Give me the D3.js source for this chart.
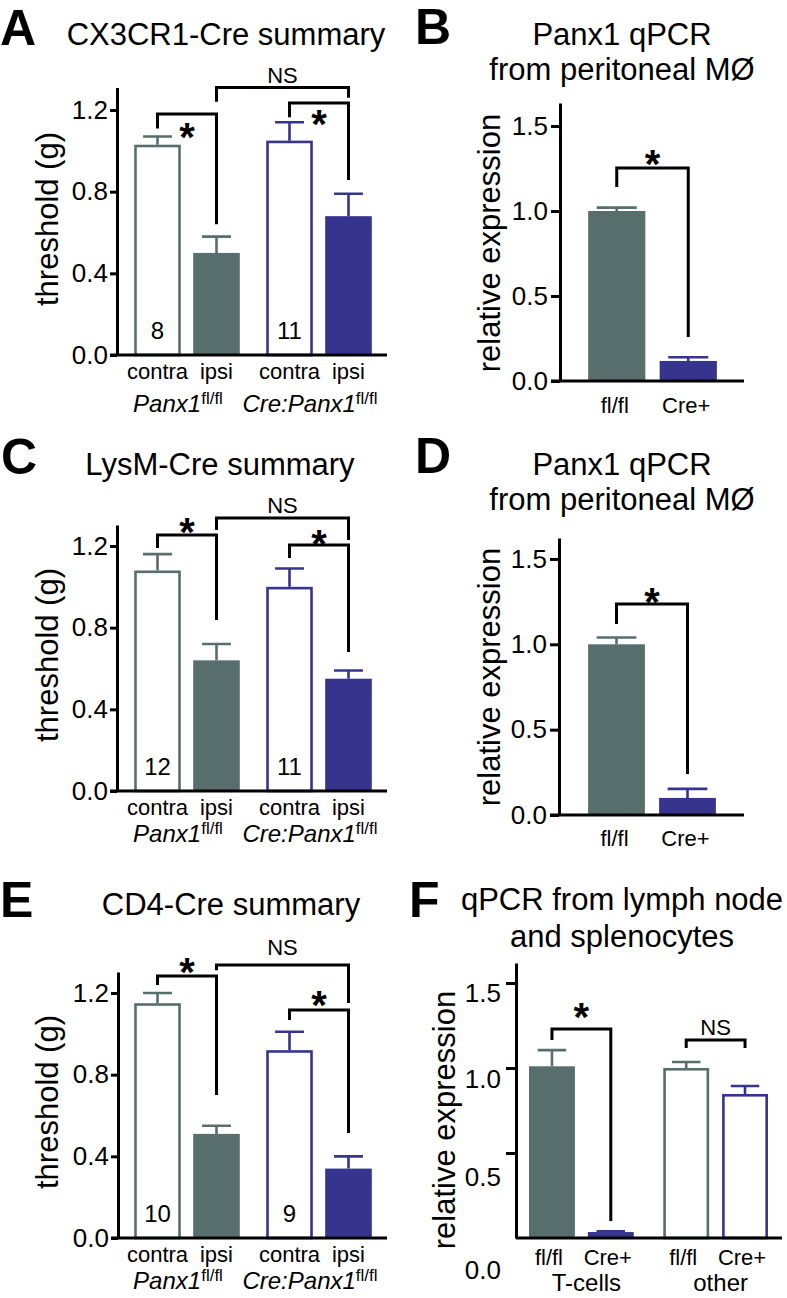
<!DOCTYPE html>
<html><head><meta charset="utf-8">
<script src="https://cdn.jsdelivr.net/npm/d3@7"></script>
<style>
body{margin:0;background:#fff}
svg{display:block}
text{font-family:"Liberation Sans",Arial,Helvetica,sans-serif;fill:#000}
</style>
</head><body>
<svg id="chart" width="787" height="1298"></svg>
<script>
// ---------------- DATA ----------------
const thrGroups = ["Panx1", "Cre:Panx1"];
const thrConditions = ["contra", "ipsi"];
const thrTicks = [0, 0.4, 0.8, 1.2];
const qTicks = [0, 0.5, 1.0, 1.5];

// Panel A: CX3CR1-Cre
const aMeans = [1.03, 0.50, 1.05, 0.68];
const aErrTop = [1.07, 0.58, 1.14, 0.79];
const aN = ["8", "", "11", ""];
// brackets: [fromBar, toBar, topValue, leftEndValue, rightEndValue, label, labelValue]
const aBrackets = [[0, 1, 1.18, 1.11, 0.64, "*", 1.112], [1, 3, 1.31, 1.24, 1.26, "NS", 1.371], [2, 3, 1.234, 1.165, 0.857, "*", 1.175]];

// Panel C: LysM-Cre
const cMeans = [1.08, 0.64, 1.00, 0.55];
const cErrTop = [1.16, 0.72, 1.09, 0.59];
const cN = ["12", "", "11", ""];
const cBrackets = [[0, 1, 1.254, 1.19, 0.837, "*", 1.312], [1, 3, 1.337, 1.278, 1.229, "NS", 1.40], [2, 3, 1.205, 1.141, 0.681, "*", 1.254]];

// Panel E: CD4-Cre
const eMeans = [1.15, 0.51, 0.92, 0.34];
const eErrTop = [1.20, 0.55, 1.01, 0.40];
const eN = ["10", "", "9", ""];
const eBrackets = [[0, 1, 1.283, 1.239, 0.70, "*", 1.347], [1, 3, 1.337, 1.312, 1.151, "NS", 1.425], [2, 3, 1.117, 1.068, 0.514, "*", 1.185]];

// Panels B, D: Panx1 qPCR from peritoneal MØ
const qCategories = ["fl/fl", "Cre+"];
const bMeans = [1.00, 0.118];
const bErrTop = [1.02, 0.14];
const bBrackets = [[0, 1, 1.253, 1.141, 0.259, "*", 1.329]];
const dMeans = [1.00, 0.10];
const dErrTop = [1.04, 0.153];
const dBrackets = [[0, 1, 1.236, 1.119, 0.24, "*", 1.30]];

// Panel F: qPCR from lymph node and splenocytes
const fGroups = ["T-cells", "other"];
const fConditions = ["fl/fl", "Cre+"];
const fMeans = [1.01, 0.035, 1.00, 0.847];
const fErrTop = [1.105, 0.04, 1.035, 0.894];
const fBrackets = [[0, 1, 1.229, 1.165, 0.10, "*", 1.353], [2, 3, 1.165, 1.118, 1.118, "NS", 1.241]];

// ---------------- STYLE ----------------
const GRAY = "#586e6d";
const BLUE = "#36348c";
const svg = d3.select("#chart");

function txt(g, x, y, s, size, o = {}) {
  const t = g.append("text").attr("x", x).attr("y", y).attr("font-size", size)
    .attr("text-anchor", o.anchor || "start").text(s);
  if (o.weight) t.attr("font-weight", o.weight);
  if (o.rotate) t.attr("transform", `rotate(-90,${x},${y})`);
  return t;
}

function drawBars(g, bars, y, y0) {
  bars.forEach(b => {
    if (b.filled) {
      g.append("rect").attr("x", b.x).attr("y", y(b.m)).attr("width", b.w)
        .attr("height", y0 - y(b.m)).attr("fill", b.color);
    } else {
      g.append("rect").attr("x", b.x + 1.3).attr("y", y(b.m) + 1.3).attr("width", b.w - 2.6)
        .attr("height", y0 - y(b.m) - 1.3).attr("fill", "#fff")
        .attr("stroke", b.color).attr("stroke-width", 2.6);
    }
    const cw = b.w * b.capFrac;
    g.append("path").attr("d", `M${b.cx},${y(b.m)}V${y(b.e)}M${b.cx - cw / 2},${y(b.e)}H${b.cx + cw / 2}`)
      .attr("stroke", b.color).attr("stroke-width", 2.6).attr("fill", "none");
  });
}

function drawBrackets(g, brackets, bars, y) {
  brackets.forEach(([i, j, top, le, re, label, lv]) => {
    const xl = bars[i].cx, xr = bars[j].cx;
    g.append("path").attr("d", `M${xl},${y(le)}V${y(top)}H${xr}V${y(re)}`)
      .attr("stroke", "#000").attr("stroke-width", 3).attr("fill", "none");
    if (label === "*") {
      txt(g, (xl + xr) / 2, y(lv) + 23, "*", 40, {anchor: "middle", weight: "bold"});
    } else {
      txt(g, (xl + xr) / 2, y(lv) + 8, label, 22, {anchor: "middle"});
    }
  });
}

function styleAxis(ax) {
  ax.select(".domain").attr("stroke-width", 3);
  ax.selectAll(".tick line").attr("stroke-width", 3);
  ax.selectAll(".tick text").attr("font-size", 26).attr("font-family", '"Liberation Sans",Arial,sans-serif').attr("fill", "#000");
}

// ---------------- THRESHOLD PANELS (A, C, E) ----------------
function thresholdPanel(L, means, errs, ns, brackets) {
  const g = svg.append("g");
  txt(g, L.lx, L.ly, L.letter, 50, {weight: "bold"});
  txt(g, L.tx, L.ty, L.title, 31, {anchor: "middle"});
  const ppu = (L.y0 - L.y12) / 1.2;
  const y = d3.scaleLinear().domain([0, L.top]).range([L.y0, L.y0 - L.top * ppu]);
  const xo = d3.scaleBand().domain(thrGroups).range(L.band).paddingInner(0.2).paddingOuter(0.1);
  const xi = d3.scaleBand().domain(thrConditions).range([0, xo.bandwidth()]).paddingInner(0.21);
  const bars = means.map((m, i) => {
    const gi = Math.floor(i / 2), c = thrConditions[i % 2];
    const x = xo(thrGroups[gi]) + xi(c);
    return {m, e: errs[i], n: ns[i], x, w: xi.bandwidth(), cx: x + xi.bandwidth() / 2,
      color: gi ? BLUE : GRAY, filled: c === "ipsi", cond: c, capFrac: 0.62};
  });
  drawBars(g, bars, y, L.y0);
  g.append("line").attr("x1", L.axisX - 7).attr("x2", L.axisRight).attr("y1", L.y0).attr("y2", L.y0)
    .attr("stroke", "#000").attr("stroke-width", 3);
  const ax = g.append("g").attr("transform", `translate(${L.axisX},0)`)
    .call(d3.axisLeft(y).tickValues(thrTicks).tickSize(7).tickSizeOuter(0).tickPadding(2).tickFormat(d3.format(".1f")));
  styleAxis(ax);
  txt(g, L.ylabX, L.ylabY, "threshold (g)", 31, {anchor: "middle", rotate: true});
  bars.forEach(b => { if (b.n) txt(g, b.cx, L.y0 - 16, b.n, 24, {anchor: "middle"}); });
  bars.forEach(b => txt(g, b.cx, L.y0 + 24, b.cond, 22, {anchor: "middle"}));
  thrGroups.forEach(gr => {
    const t = g.append("text").attr("x", xo(gr) + xo.bandwidth() / 2 - 9).attr("y", L.y0 + L.grpOff)
      .attr("text-anchor", "middle").attr("font-size", 24);
    t.append("tspan").attr("font-style", "italic").text(gr);
    t.append("tspan").attr("font-size", 17).attr("dy", -8).text("fl/fl");
  });
  drawBrackets(g, brackets, bars, y);
}

thresholdPanel({letter: "A", lx: 0, ly: 45, title: "CX3CR1-Cre summary", tx: 226, ty: 45, axisX: 117, axisRight: 387,
  y0: 355, y12: 110, top: 1.31, band: [121, 385], ylabX: 58, ylabY: 219, grpOff: 57}, aMeans, aErrTop, aN, aBrackets);
thresholdPanel({letter: "C", lx: 1, ly: 474, title: "LysM-Cre summary", tx: 220, ty: 475, axisX: 117, axisRight: 387,
  y0: 791, y12: 546, top: 1.303, band: [121, 385], ylabX: 58, ylabY: 655, grpOff: 51}, cMeans, cErrTop, cN, cBrackets);
thresholdPanel({letter: "E", lx: 0, ly: 917, title: "CD4-Cre summary", tx: 231, ty: 915, axisX: 118, axisRight: 387,
  y0: 1238, y12: 993, top: 1.303, band: [121, 385], ylabX: 58, ylabY: 1102, grpOff: 51}, eMeans, eErrTop, eN, eBrackets);

// ---------------- qPCR PANELS (B, D) ----------------
function qpcrPanel(L, means, errs, brackets) {
  const g = svg.append("g");
  txt(g, L.lx, L.ly, L.letter, 50, {weight: "bold"});
  txt(g, L.tx, L.ty1, "Panx1 qPCR", 31, {anchor: "middle"});
  txt(g, L.tx, L.ty2, "from peritoneal MØ", 31, {anchor: "middle"});
  const y = d3.scaleLinear().domain([0, L.top]).range([L.y0, L.y0 - L.top * L.ppu]);
  const x = d3.scaleBand().domain(qCategories).range(L.band).paddingInner(0.2).paddingOuter(0.1);
  const bars = means.map((m, i) => ({m, e: errs[i], x: x(qCategories[i]), w: x.bandwidth(),
    cx: x(qCategories[i]) + x.bandwidth() / 2, color: i ? BLUE : GRAY, filled: true, capFrac: 0.7}));
  drawBars(g, bars, y, L.y0);
  g.append("line").attr("x1", L.axisX - 9).attr("x2", L.axisRight).attr("y1", L.y0).attr("y2", L.y0)
    .attr("stroke", "#000").attr("stroke-width", 3);
  const ax = g.append("g").attr("transform", `translate(${L.axisX},0)`)
    .call(d3.axisLeft(y).tickValues(qTicks).tickSize(9).tickSizeOuter(0).tickPadding(3).tickFormat(d3.format(".1f")));
  styleAxis(ax);
  txt(g, L.ylabX, L.ylabY, "relative expression", 31, {anchor: "middle", rotate: true});
  bars.forEach((b, i) => txt(g, b.cx - 2, L.y0 + L.labOff, qCategories[i], 22, {anchor: "middle"}));
  drawBrackets(g, brackets, bars, y);
}

qpcrPanel({letter: "B", lx: 415, ly: 44, tx: 622, ty1: 45, ty2: 80, axisX: 560, axisRight: 744, y0: 381, ppu: 170,
  top: 1.635, band: [581, 724], ylabX: 500, ylabY: 243, labOff: 32}, bMeans, bErrTop, bBrackets);
qpcrPanel({letter: "D", lx: 415, ly: 473, tx: 622, ty1: 475, ty2: 510, axisX: 559, axisRight: 744, y0: 815, ppu: 170.7,
  top: 1.623, band: [581, 723], ylabX: 500, ylabY: 677, labOff: 31}, dMeans, dErrTop, dBrackets);

// ---------------- PANEL F ----------------
(function () {
  const L = {lx: 409, ly: 917, tx: 622, ty1: 910, ty2: 947, axisX: 516, axisRight: 782, y0: 1238, ppu: 170,
    top: 1.618, band: [515.6, 781.4], ylabX: 455, ylabY: 1120};
  const g = svg.append("g");
  txt(g, L.lx, L.ly, "F", 50, {weight: "bold"});
  txt(g, L.tx, L.ty1, "qPCR from lymph node", 31, {anchor: "middle"});
  txt(g, L.tx, L.ty2, "and splenocytes", 31, {anchor: "middle"});
  const y = d3.scaleLinear().domain([0, L.top]).range([L.y0, L.y0 - L.top * L.ppu]);
  const xo = d3.scaleBand().domain(fGroups).range(L.band).paddingInner(0.22).paddingOuter(0.1);
  const xi = d3.scaleBand().domain(fConditions).range([0, xo.bandwidth()]).paddingInner(0.22);
  const bars = fMeans.map((m, i) => {
    const gi = Math.floor(i / 2), c = fConditions[i % 2];
    const x = xo(fGroups[gi]) + xi(c);
    return {m, e: fErrTop[i], x, w: xi.bandwidth(), cx: x + xi.bandwidth() / 2,
      color: i % 2 ? BLUE : GRAY, filled: gi === 0, cond: c, capFrac: 0.62};
  });
  drawBars(g, bars, y, L.y0);
  g.append("line").attr("x1", L.axisX).attr("x2", L.axisRight).attr("y1", L.y0).attr("y2", L.y0)
    .attr("stroke", "#000").attr("stroke-width", 3);
  const ax = g.append("g").attr("transform", `translate(${L.axisX},0)`)
    .call(d3.axisLeft(y).tickValues(qTicks).tickSize(10).tickSizeOuter(0).tickPadding(5).tickFormat(d3.format(".1f")));
  styleAxis(ax);
  const labelShift = {0: 31, 0.5: 23, 1: 10, 1.5: 9};
  ax.selectAll(".tick").each(function (d) {
    const t = d3.select(this);
    t.select("text").attr("dy", null).attr("y", labelShift[d] + 9);
    if (d === 0) t.select("line").remove();
  });
  txt(g, L.ylabX, L.ylabY, "relative expression", 31, {anchor: "middle", rotate: true});
  bars.forEach(b => txt(g, b.cx - 3, L.y0 + 27, b.cond, 22, {anchor: "middle"}));
  fGroups.forEach(gr => txt(g, xo(gr) + xo.bandwidth() / 2 + 5, 1291, gr, 24, {anchor: "middle"}));
  drawBrackets(g, fBrackets, bars, y);
})();
</script>
</body></html>
